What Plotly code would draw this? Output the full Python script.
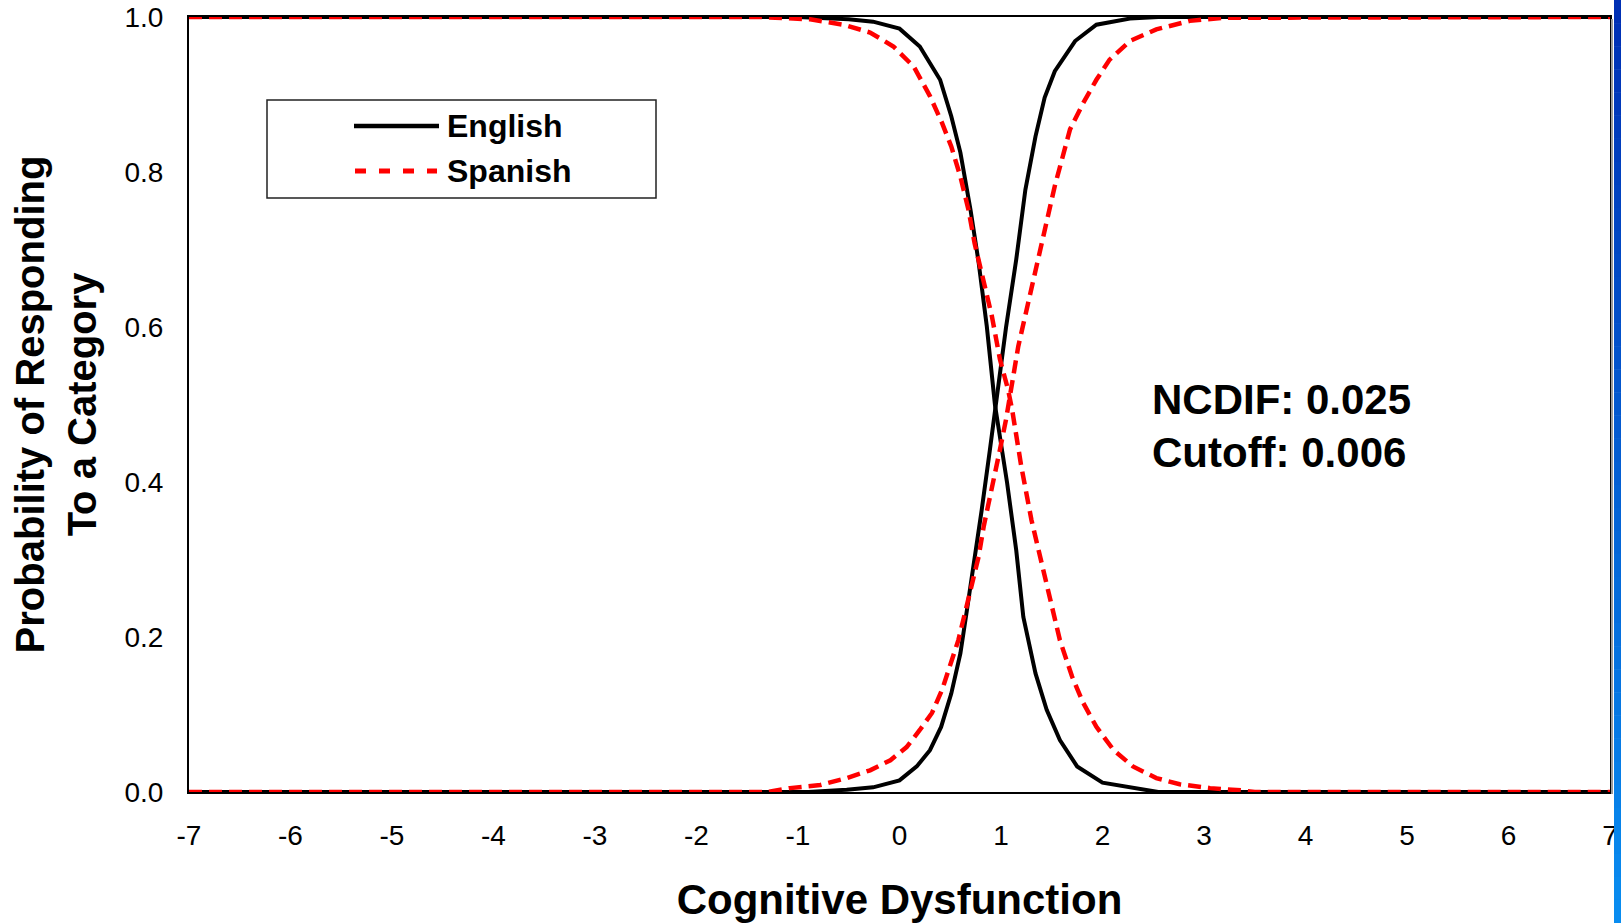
import plotly.graph_objects as go

# ---------------- data ----------------
eng_dec_x = [-7, -1.0, -0.5, -0.26, 0.0, 0.2, 0.4, 0.51, 0.6, 0.7, 0.78, 0.86, 0.94,
             1.06, 1.15, 1.22, 1.34, 1.45, 1.58, 1.75, 2.0, 2.3, 2.55, 7]
eng_dec_y = [1.0, 1.0, 0.997, 0.994, 0.985, 0.962, 0.919, 0.872, 0.825, 0.751, 0.683, 0.601, 0.5,
             0.399, 0.312, 0.226, 0.153, 0.106, 0.067, 0.033, 0.012, 0.005, 0.0, 0.0]

eng_inc_x = [-7, -0.9, -0.52, -0.26, 0.0, 0.17, 0.3, 0.41, 0.51, 0.6, 0.66, 0.73, 0.81, 0.89, 0.95,
             1.05, 1.15, 1.24, 1.34, 1.43, 1.53, 1.73, 1.94, 2.27, 2.55, 7]
eng_inc_y = [0.0, 0.0, 0.003, 0.006, 0.015, 0.033, 0.054, 0.084, 0.127, 0.179, 0.231, 0.291, 0.364, 0.441, 0.5,
             0.60, 0.687, 0.777, 0.846, 0.896, 0.930, 0.969, 0.990, 0.998, 1.0, 1.0]

spa_dec_x = [-7, -1.37, -0.88, -0.55, -0.29, -0.06, 0.14, 0.30, 0.42, 0.51, 0.60, 0.68, 0.74, 0.83, 0.91,
             0.99, 1.07, 1.11, 1.20, 1.30, 1.38, 1.47, 1.58, 1.70, 1.81, 1.94, 2.11, 2.30, 2.53, 2.76,
             3.06, 3.38, 3.5, 7]
spa_dec_y = [1.0, 1.0, 0.997, 0.990, 0.980, 0.962, 0.936, 0.898, 0.863, 0.833, 0.794, 0.751, 0.708, 0.657, 0.614,
             0.558, 0.519, 0.493, 0.420, 0.351, 0.308, 0.257, 0.196, 0.149, 0.115, 0.084, 0.054, 0.033, 0.018, 0.010,
             0.005, 0.002, 0.0, 0.0]

spa_inc_x = [-7, -1.3, -1.08, -0.78, -0.52, -0.29, -0.09, 0.07, 0.20, 0.32, 0.42, 0.50, 0.58, 0.66, 0.71,
             0.78, 0.83, 0.89, 0.94, 0.99, 1.05, 1.17, 1.25, 1.32, 1.37, 1.42, 1.47, 1.53, 1.60, 1.68,
             1.81, 1.94, 2.07, 2.27, 2.53, 2.86, 3.19, 7]
spa_inc_y = [0.0, 0.0, 0.005, 0.009, 0.018, 0.028, 0.041, 0.058, 0.080, 0.102, 0.132, 0.162, 0.196, 0.239, 0.265,
             0.304, 0.343, 0.377, 0.411, 0.442, 0.481, 0.575, 0.622, 0.657, 0.691, 0.721, 0.751, 0.782, 0.816, 0.855,
             0.889, 0.919, 0.945, 0.969, 0.984, 0.995, 0.999, 1.0]

x_ticks = [-7, -6, -5, -4, -3, -2, -1, 0, 1, 2, 3, 4, 5, 6, 7]
y_ticks = [0.0, 0.2, 0.4, 0.6, 0.8, 1.0]
legend_names = ["English", "Spanish"]
stat_lines = ["NCDIF: 0.025", "Cutoff: 0.006"]

FONT = "Liberation Sans, Arial, sans-serif"
BLACK = "#000000"
RED = "#FF0000"
EN_STYLE = dict(color=BLACK, width=4)
SP_STYLE = dict(color=RED, width=4.5, dash="13px,7px")

fig = go.Figure()
fig.add_trace(go.Scatter(x=eng_dec_x, y=eng_dec_y, mode="lines", name=legend_names[0],
                         legendgroup="en", line=EN_STYLE, showlegend=False))
fig.add_trace(go.Scatter(x=eng_inc_x, y=eng_inc_y, mode="lines", name=legend_names[0],
                         legendgroup="en", line=EN_STYLE, showlegend=False))
fig.add_trace(go.Scatter(x=spa_dec_x, y=spa_dec_y, mode="lines", name=legend_names[1],
                         legendgroup="sp", line=SP_STYLE, showlegend=False))
fig.add_trace(go.Scatter(x=spa_inc_x, y=spa_inc_y, mode="lines", name=legend_names[1],
                         legendgroup="sp", line=SP_STYLE, showlegend=False))

# plot geometry (pixels)
L, R, T, B = 189, 11, 17, 131
W, H = 1621, 923
pw, ph = W - L - R, H - T - B


def px_x(p):
    return (p - L) / pw


def px_y(p):
    return (H - B - p) / ph


shapes = []
# legend box
shapes.append(dict(type="rect", xref="paper", yref="paper",
                   x0=px_x(267), x1=px_x(656), y0=px_y(198), y1=px_y(100),
                   line=dict(color="#222222", width=1.5), fillcolor="white", layer="above"))
shapes.append(dict(type="line", xref="paper", yref="paper",
                   x0=px_x(354), x1=px_x(439), y0=px_y(126), y1=px_y(126),
                   line=dict(color=BLACK, width=4.5), layer="above"))
shapes.append(dict(type="line", xref="paper", yref="paper",
                   x0=px_x(355), x1=px_x(437), y0=px_y(171), y1=px_y(171),
                   line=dict(color=RED, width=5, dash="11px,13px"), layer="above"))
# gray shadow right of plot frame
shapes.append(dict(type="line", xref="paper", yref="paper",
                   x0=px_x(1612), x1=px_x(1612), y0=px_y(794), y1=px_y(19),
                   line=dict(color="#9a9a9a", width=2)))
# blue gradient strip at right edge
n = 40
c0 = (0, 48, 180)
c1 = (8, 140, 240)
for i in range(n):
    t = i / (n - 1)
    col = "rgb(%d,%d,%d)" % tuple(round(a + (b - a) * t) for a, b in zip(c0, c1))
    y_top = H * i / n
    y_bot = H * (i + 1) / n
    shapes.append(dict(type="rect", xref="paper", yref="paper",
                       x0=px_x(1614), x1=px_x(1622), y0=px_y(y_bot + 0.5), y1=px_y(y_top),
                       line=dict(width=0), fillcolor=col, layer="above"))

annotations = []
for name, ypx in zip(legend_names, [126, 171]):
    annotations.append(dict(text="<b>%s</b>" % name, xref="paper", yref="paper",
                            x=px_x(445), y=px_y(ypx), xanchor="left", yanchor="middle",
                            showarrow=False, font=dict(family=FONT, size=32, color=BLACK)))
for txt, ypx in zip(stat_lines, [400, 452]):
    annotations.append(dict(text="<b>%s</b>" % txt, xref="paper", yref="paper",
                            x=px_x(1150), y=px_y(ypx), xanchor="left", yanchor="middle",
                            showarrow=False, font=dict(family=FONT, size=42, color=BLACK)))

fig.update_layout(
    width=W, height=H,
    margin=dict(l=L, r=R, t=T, b=B, autoexpand=False),
    paper_bgcolor="white", plot_bgcolor="white",
    font=dict(family=FONT, color=BLACK),
    showlegend=False,
    shapes=shapes,
    annotations=annotations,
)
fig.update_xaxes(
    range=[-7, 7], tickvals=x_ticks, ticktext=[str(v) for v in x_ticks],
    showgrid=False, zeroline=False, showline=True, mirror=True,
    linecolor=BLACK, linewidth=2, ticks="", ticklabelstandoff=17,
    tickfont=dict(family=FONT, size=28, color=BLACK),
    title=dict(text="<b>Cognitive Dysfunction</b>", standoff=36,
               font=dict(family=FONT, size=42, color=BLACK)),
    automargin=False,
)
fig.update_yaxes(
    range=[0, 1], tickvals=y_ticks, ticktext=["%.1f" % v for v in y_ticks],
    showgrid=False, zeroline=False, showline=True, mirror=True,
    linecolor=BLACK, linewidth=2, ticks="", ticklabelstandoff=18,
    tickfont=dict(family=FONT, size=28, color=BLACK),
    title=dict(text="<b>Probability of Responding<br>To a Category</b>", standoff=15,
               font=dict(family=FONT, size=40, color=BLACK)),
    automargin=False,
)

fig.write_html("out.html",
               config={"displayModeBar": False},
               post_script="document.body.style.margin='0';document.body.style.overflow='hidden';")
